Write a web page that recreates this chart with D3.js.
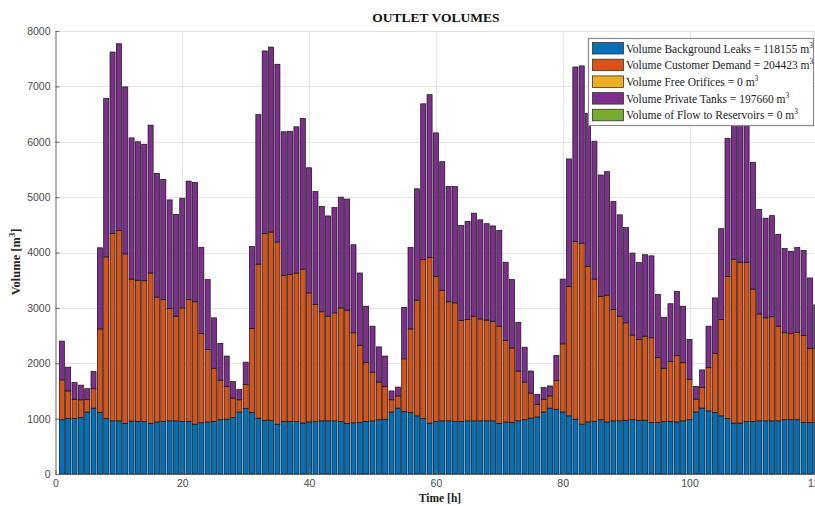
<!DOCTYPE html>
<html>
<head>
<meta charset="utf-8">
<script src="https://cdn.jsdelivr.net/npm/d3@7"></script>
<style>
  html, body { margin: 0; padding: 0; background: #fff; }
  svg { display: block; }
</style>
</head>
<body>
<svg id="chart" width="815" height="506"></svg>
<script>
// Hourly outlet volumes over five days (m^3 per hour)
const hours = d3.range(1, 121);

const backgroundLeaks = [
  980, 1000, 1000, 1020, 1120, 1190, 1110, 1000, 960, 960, 915, 955,
  950, 950, 915, 940, 950, 960, 960, 950, 950, 900, 925, 940,
  950, 980, 990, 1020, 1120, 1180, 1110, 1010, 970, 970, 900, 950,
  950, 950, 920, 940, 950, 960, 960, 960, 950, 915, 925, 930,
  950, 960, 980, 990, 1120, 1190, 1130, 1110, 1050, 1000, 920, 950,
  960, 960, 950, 950, 960, 960, 960, 960, 960, 915, 940, 930,
  960, 980, 1010, 1030, 1120, 1190, 1170, 1120, 1050, 990, 900, 940,
  950, 980, 940, 960, 960, 970, 980, 970, 970, 930, 930, 950,
  950, 940, 960, 980, 1120, 1190, 1140, 1110, 1050, 1000, 920, 920,
  950, 950, 960, 960, 960, 960, 980, 980, 980, 930, 930, 930
];

const customerDemand = [
  720, 500, 350, 320, 230, 350, 1510, 2920, 3385, 3440, 3060, 2565,
  2550, 2540, 2715, 2255, 2200, 2030, 1890, 2050, 2200, 2210, 1610, 1310,
  960, 715, 590, 350, 220, 440, 1520, 2780, 3375, 3400, 3290, 2640,
  2650, 2680, 2780, 2330, 2110, 1970, 1890, 1950, 2050, 2045, 1625, 1395,
  1060, 880, 680, 590, 220, 220, 950, 1510, 2090, 2870, 2990, 2620,
  2360, 2150, 2140, 1820, 1830, 1890, 1840, 1820, 1800, 1755, 1470, 1345,
  900, 680, 450, 230, 230, 220, 520, 1230, 2340, 3210, 3270, 2810,
  2570, 2230, 2290, 2010, 1890, 1760, 1530, 1460, 1520, 1530, 1170, 960,
  1080, 1200, 1050, 730, 230, 370, 780, 1070, 1740, 2570, 2960, 2905,
  2875, 2390, 1930, 1860, 1880, 1710, 1570, 1560, 1580, 1570, 1340, 1345
];

const freeOrifices = hours.map(() => 0);

const privateTanks = [
  700, 430, 300, 265, 190, 310, 1465, 2865, 3275, 3370, 3015, 2550,
  2500, 2465, 2670, 2235, 2170, 1960, 1840, 1980, 2140, 2155, 1560, 1260,
  910, 665, 550, 300, 190, 400, 1480, 2700, 3295, 3340, 3210, 2590,
  2590, 2640, 2720, 2260, 2040, 1900, 1810, 1900, 2000, 2005, 1590, 1305,
  1020, 830, 635, 550, 160, 160, 930, 1470, 2010, 2815, 2940, 2590,
  2320, 2080, 2100, 1715, 1770, 1860, 1790, 1740, 1720, 1730, 1415, 1235,
  880, 630, 400, 180, 210, 180, 450, 1170, 2300, 3150, 3200, 2760,
  2490, 2190, 2230, 1950, 1830, 1720, 1480, 1390, 1470, 1480, 1140, 920,
  1045, 1160, 1020, 720, 230, 320, 750, 1000, 1640, 2490, 2870, 2830,
  2800, 2290, 1890, 1800, 1825, 1660, 1520, 1480, 1530, 1535, 1270, 780
];

const flowToReservoirs = hours.map(() => 0);

const seriesNames = [
  "Volume Background Leaks = 118155 m",
  "Volume Customer Demand = 204423 m",
  "Volume Free Orifices = 0 m",
  "Volume Private Tanks = 197660 m",
  "Volume of Flow to Reservoirs = 0 m"
];
const seriesColors = ["#0072BD", "#D95319", "#EDB120", "#7E2F8E", "#77AC30"];

const xTicks = [0, 20, 40, 60, 80, 100, 120];
const yTicks = [0, 1000, 2000, 3000, 4000, 5000, 6000, 7000, 8000];

// ---- layout ----
const svg = d3.select("#chart");
const plotLeft = 55.5, plotRight = 816.3, plotTop = 31, plotBottom = 474;

const x = d3.scaleLinear().domain([0, 120]).range([plotLeft, plotRight]);
const y = d3.scaleLinear().domain([0, 8000]).range([plotBottom, plotTop]);

// grid
const grid = svg.append("g").attr("stroke", "#e3e3e3").attr("stroke-width", 1);
grid.selectAll("line.h").data(yTicks.slice(1)).join("line")
  .attr("x1", plotLeft).attr("x2", plotRight)
  .attr("y1", d => Math.round(y(d)) + 0.5).attr("y2", d => Math.round(y(d)) + 0.5);
grid.selectAll("line.v").data(xTicks.slice(1)).join("line")
  .attr("y1", plotTop).attr("y2", plotBottom)
  .attr("x1", d => Math.round(x(d)) + 0.5).attr("x2", d => Math.round(x(d)) + 0.5);

// stacked bars
const rows = hours.map((h, i) => ({
  hour: h,
  leaks: backgroundLeaks[i],
  demand: customerDemand[i],
  orifices: freeOrifices[i],
  tanks: privateTanks[i],
  reservoirs: flowToReservoirs[i]
}));
const keys = ["leaks", "demand", "orifices", "tanks", "reservoirs"];
const stacked = d3.stack().keys(keys)(rows);

const barW = 0.8;
svg.append("g").selectAll("g")
  .data(stacked).join("g")
  .attr("fill", (d, i) => seriesColors[i])
  .selectAll("rect")
  .data(d => d.filter(p => p[1] > p[0]))
  .join("rect")
  .attr("x", p => x(p.data.hour - barW / 2))
  .attr("width", p => x(p.data.hour + barW / 2) - x(p.data.hour - barW / 2))
  .attr("y", p => y(p[1]))
  .attr("height", p => y(p[0]) - y(p[1]))
  .attr("stroke", "#111")
  .attr("stroke-width", 0.7);

// axes
const axisColor = "#666";
const yAxis = svg.append("g")
  .attr("transform", `translate(${plotLeft},0)`)
  .call(d3.axisLeft(y).tickValues(yTicks).tickFormat(d3.format("d"))
    .tickSize(-4).tickPadding(5).tickSizeOuter(0));
const xAxis = svg.append("g")
  .attr("transform", `translate(0,${plotBottom})`)
  .call(d3.axisBottom(x).tickValues(xTicks).tickFormat(d3.format("d"))
    .tickSize(-4).tickPadding(6).tickSizeOuter(0));
[yAxis, xAxis].forEach(a => {
  a.select(".domain").attr("stroke", axisColor);
  a.selectAll(".tick line").attr("stroke", axisColor);
  a.selectAll(".tick text")
    .attr("fill", "#4a4a4a")
    .attr("font-family", "Liberation Sans, Arial, sans-serif")
    .attr("font-size", 10.5);
});

// titles
const serif = "Liberation Serif, Times New Roman, serif";
svg.append("text")
  .attr("x", (plotLeft + plotRight) / 2).attr("y", 22)
  .attr("text-anchor", "middle")
  .attr("font-family", serif).attr("font-weight", "bold").attr("font-size", 13.5)
  .attr("fill", "#111")
  .text("OUTLET VOLUMES");

svg.append("text")
  .attr("x", 440).attr("y", 502)
  .attr("text-anchor", "middle")
  .attr("font-family", serif).attr("font-weight", "bold").attr("font-size", 11.5)
  .attr("fill", "#222")
  .text("Time [h]");

const yl = svg.append("text")
  .attr("transform", "translate(20,262) rotate(-90)")
  .attr("text-anchor", "middle")
  .attr("font-family", serif).attr("font-weight", "bold").attr("font-size", 12.5)
  .attr("fill", "#222");
yl.append("tspan").text("Volume [m");
yl.append("tspan").attr("font-size", 8.5).attr("dy", -5).text("3");
yl.append("tspan").attr("dy", 5).text("]");

// legend
const lg = svg.append("g").attr("transform", "translate(588.5,38.5)");
lg.append("rect")
  .attr("width", 225).attr("height", 87)
  .attr("fill", "#fff").attr("stroke", "#8a8a8a").attr("stroke-width", 1.2);
const item = lg.selectAll("g.item").data(seriesNames).join("g")
  .attr("transform", (d, i) => `translate(0,${4 + i * 16.7})`);
item.append("rect")
  .attr("x", 4).attr("y", 0).attr("width", 31).attr("height", 11.5)
  .attr("fill", (d, i) => seriesColors[i])
  .attr("stroke", "#333").attr("stroke-width", 0.8);
const lt = item.append("text")
  .attr("x", 37.5).attr("y", 10)
  .attr("font-family", serif).attr("font-size", 11.5).attr("fill", "#222");
lt.append("tspan").text(d => d);
lt.append("tspan").attr("font-size", 7.5).attr("dy", -5).text("3");
</script>
</body>
</html>
